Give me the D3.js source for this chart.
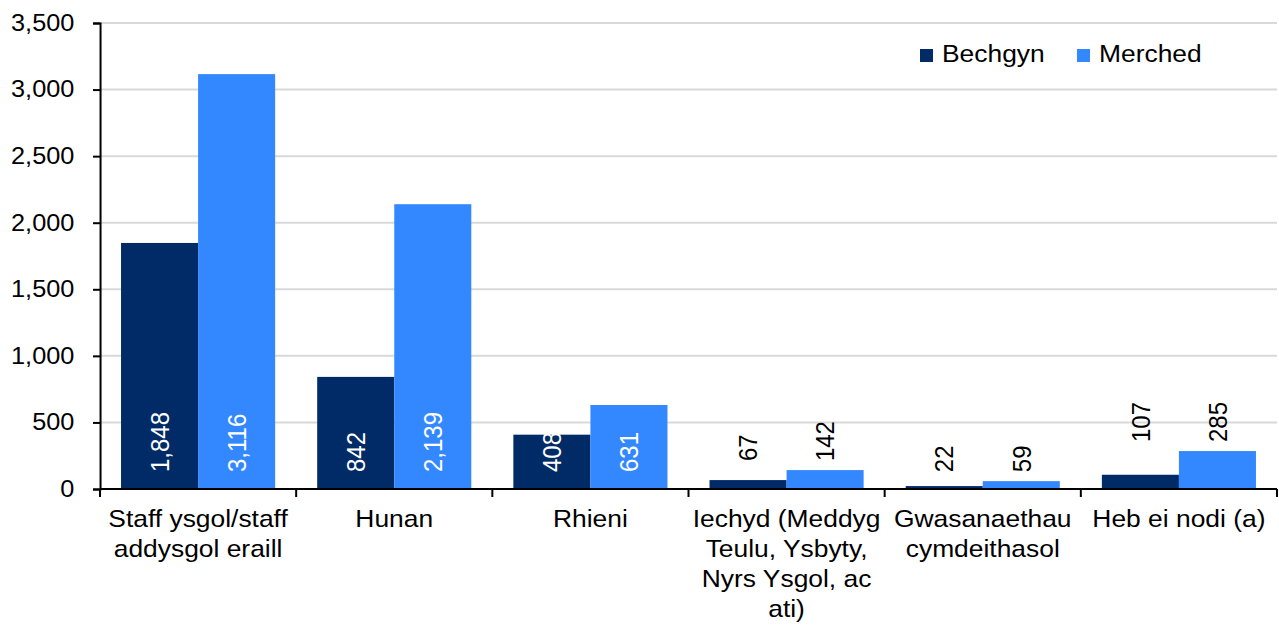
<!DOCTYPE html>
<html>
<head>
<meta charset="utf-8">
<script src="https://cdn.jsdelivr.net/npm/d3@7"></script>
<style>
  body { margin: 0; background: #fff; }
  text { font-family: "Liberation Sans", Arial, sans-serif; fill: #000; }
</style>
</head>
<body>
<div id="chart"></div>
<script>
// data
const categories = [
  "Staff ysgol/staff addysgol eraill",
  "Hunan",
  "Rhieni",
  "Iechyd (Meddyg Teulu, Ysbyty, Nyrs Ysgol, ac ati)",
  "Gwasanaethau cymdeithasol",
  "Heb ei nodi (a)"
]
const seriesNames = ["Bechgyn", "Merched"]
const bechgyn = [1848, 842, 408, 67, 22, 107]
const merched = [3116, 2139, 631, 142, 59, 285]
const yTicks = [0, 500, 1000, 1500, 2000, 2500, 3000, 3500]

const colors = ["#002b67", "#3388ff"]

// the reference is slightly stretched sideways, so draw in a narrower box and stretch it
const stretch = 1.1
const width = 1279, height = 628
const innerW = width / stretch
const plotLeft = 100 / stretch, plotRight = 1277 / stretch
const plotTop = 23, plotBottom = 489
const fontSize = 23

const svg = d3.select("#chart").append("svg")
  .attr("width", width)
  .attr("height", height)
  .attr("viewBox", `0 0 ${innerW} ${height}`)
  .attr("preserveAspectRatio", "none")

const y = d3.scaleLinear().domain([0, 3500]).range([plotBottom, plotTop])

const x = d3.scaleBand().domain(categories).range([plotLeft, plotRight]).padding(0)

const xInner = d3.scaleBand().domain(seriesNames)
  .range([0, x.bandwidth()])
  .paddingInner(0)
  .paddingOuter(0.273)

// gridlines
svg.append("g")
  .selectAll("line")
  .data(yTicks.filter(d => d > 0))
  .join("line")
  .attr("x1", plotLeft).attr("x2", plotRight)
  .attr("y1", d => y(d)).attr("y2", d => y(d))
  .attr("stroke", "#d9d9d9")
  .attr("stroke-width", 2)

// bars
const rows = categories.map((c, i) => ({
  cat: c,
  vals: [
    { name: seriesNames[0], v: bechgyn[i], i: 0 },
    { name: seriesNames[1], v: merched[i], i: 1 }
  ]
}))

const groups = svg.append("g")
  .selectAll("g")
  .data(rows)
  .join("g")
  .attr("transform", d => `translate(${x(d.cat)},0)`)

groups.selectAll("rect")
  .data(d => d.vals)
  .join("rect")
  .attr("x", d => xInner(d.name))
  .attr("width", xInner.bandwidth())
  .attr("y", d => y(d.v))
  .attr("height", d => y(0) - y(d.v))
  .attr("fill", d => colors[d.i])

// value labels: big bars get white text inside the base, small ones sit above the group
groups.each(function (row) {
  const maxV = d3.max(row.vals, d => d.v)
  d3.select(this).selectAll("text.val")
    .data(row.vals)
    .join("text")
    .attr("class", "val")
    .attr("transform", d => {
      const cx = xInner(d.name) + xInner.bandwidth() / 2
      const cy = d.v >= 400 ? y(0) - 17 : y(maxV) - 9
      return `translate(${cx},${cy}) rotate(-90)`
    })
    .attr("text-anchor", "start")
    .attr("dy", "0.35em")
    .attr("font-size", fontSize + 1)
    .style("fill", d => d.v >= 400 ? "#fff" : "#000")
    .text(d => d3.format(",")(d.v))
})

// y axis
const yAxis = svg.append("g")
  .attr("transform", `translate(${plotLeft},0)`)
  .call(d3.axisLeft(y).tickValues(yTicks).tickFormat(d3.format(",")).tickSize(7 / stretch).tickPadding(17))
yAxis.select(".domain").attr("stroke", "#000").attr("stroke-width", 2 / stretch)
yAxis.selectAll(".tick line").attr("stroke", "#000").attr("stroke-width", 2)
yAxis.selectAll(".tick text")
  .attr("font-size", fontSize)
  .attr("font-family", null)
  .style("fill", "#000")

// x axis line and boundary ticks
svg.append("line")
  .attr("x1", plotLeft).attr("x2", plotRight)
  .attr("y1", plotBottom).attr("y2", plotBottom)
  .attr("stroke", "#000").attr("stroke-width", 2)

const bounds = categories.map(c => x(c)).concat([plotRight])
svg.append("g")
  .selectAll("line")
  .data(bounds)
  .join("line")
  .attr("x1", d => d).attr("x2", d => d)
  .attr("y1", plotBottom).attr("y2", plotBottom + 8)
  .attr("stroke", "#000").attr("stroke-width", 2 / stretch)

// category labels, wrapped to the band width
const catLabels = svg.append("g")
  .selectAll("text")
  .data(categories)
  .join("text")
  .attr("x", d => x(d) + x.bandwidth() / 2)
  .attr("y", 527)
  .attr("text-anchor", "middle")
  .attr("font-size", fontSize + 1)
  .text(d => d)

catLabels.each(function (d) {
  const el = d3.select(this)
  const words = d.split(" ")
  const cx = x(d) + x.bandwidth() / 2
  const maxW = x.bandwidth() - 4
  el.text(null)
  let line = []
  let lineNo = 0
  let tspan = el.append("tspan").attr("x", cx).attr("y", 527)
  words.forEach(w => {
    line.push(w)
    tspan.text(line.join(" "))
    if (tspan.node().getComputedTextLength() > maxW && line.length > 1) {
      line.pop()
      tspan.text(line.join(" "))
      line = [w]
      lineNo++
      tspan = el.append("tspan").attr("x", cx).attr("y", 527 + lineNo * 30).text(w)
    }
  })
})

// legend
const legend = svg.append("g")
  .selectAll("g")
  .data(seriesNames)
  .join("g")
  .attr("transform", (d, i) => `translate(${(920 + i * 157) / stretch},49)`)

legend.append("rect")
  .attr("width", 13 / stretch)
  .attr("height", 13)
  .attr("fill", (d, i) => colors[i])

legend.append("text")
  .attr("x", 22 / stretch)
  .attr("y", 13)
  .attr("font-size", fontSize + 1)
  .text(d => d)
</script>
</body>
</html>
